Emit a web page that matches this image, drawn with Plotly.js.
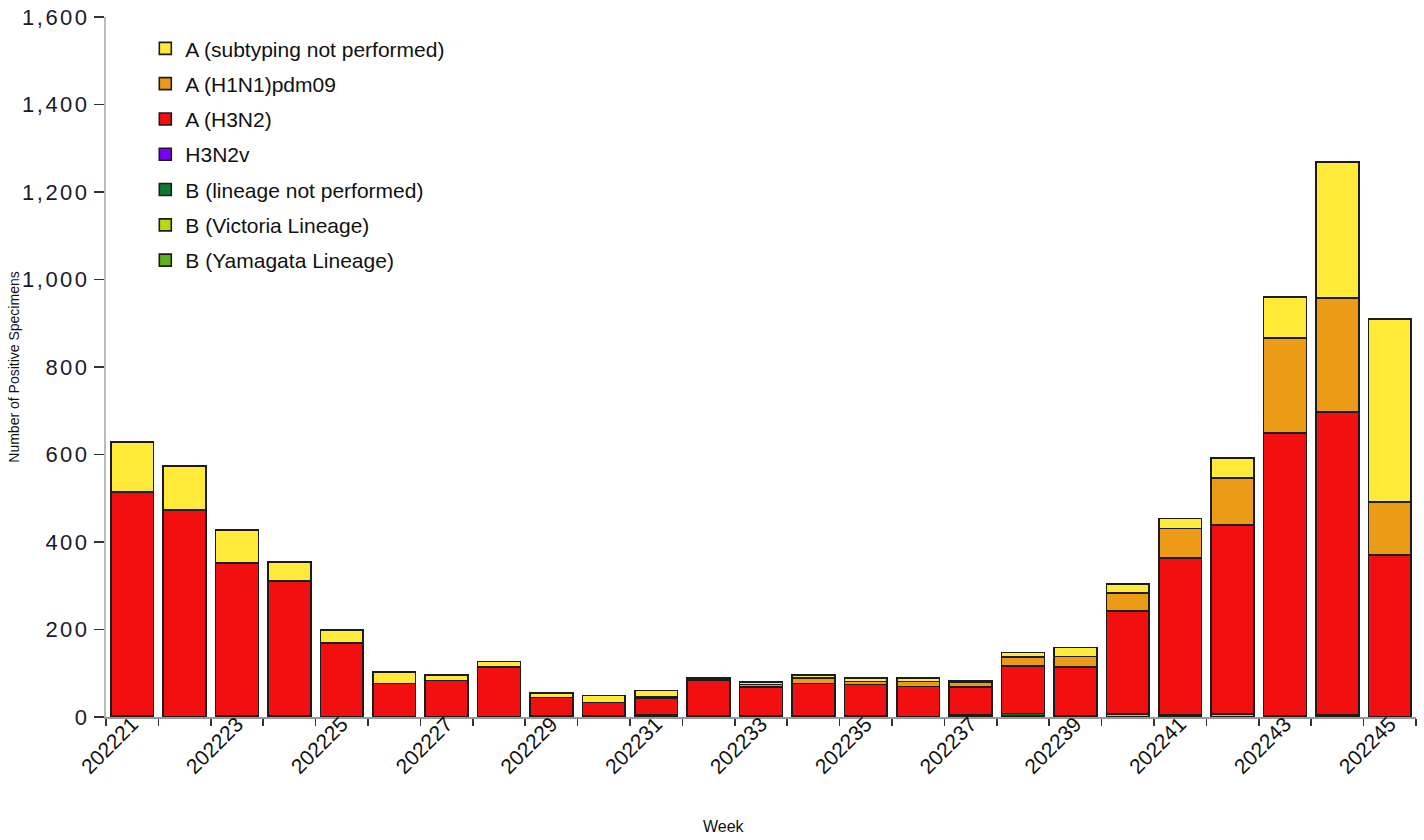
<!DOCTYPE html>
<html>
<head>
<meta charset="utf-8">
<script src="https://cdn.plot.ly/plotly-3.0.1.min.js"></script>
<style>
html,body{margin:0;padding:0;background:#fff;}
#chart{width:1424px;height:840px;}
#chart .ytick text{letter-spacing:2.5px;}
</style>
</head>
<body>
<div id="chart"></div>
<script>
const weeks = ['202221','202222','202223','202224','202225','202226','202227','202228','202229','202230','202231','202232','202233','202234','202235','202236','202237','202238','202239','202240','202241','202242','202243','202244','202245'];
const tickLabels = ['202221','','202223','','202225','','202227','','202229','','202231','','202233','','202235','','202237','','202239','','202241','','202243','','202245'];

const aSubtypingNotPerformed = [113,101,75,43,30,26,13,13,10,16,15,3,6,7,8,8,3,10,21,21,23,46,94,310,418];
const aH1N1pdm09 = [2,0,0,0,0,0,0,0,0,0,2,4,6,12,7,11,10,21,24,41,67,107,217,261,122];
const aH3N2 = [511,472,349,308,168,76,82,113,43,31,40,81,66,75,72,69,65,108,111,234,360,431,646,692,370];
const h3n2v = [0,0,0,0,0,0,0,0,0,0,0,0,0,0,0,0,0,0,0,0,0,0,0,0,0];
const bLineageNotPerformed = [2,1,3,3,1,1,1,1,2,2,4,2,2,2,2,1,4,6,3,2,4,2,3,5,0];
const bVictoria = [0,0,0,0,0,0,0,0,0,0,0,0,0,0,0,0,0,2,0,6,0,6,0,0,0];
const bYamagata = [0,0,0,0,0,0,0,0,0,0,0,0,0,0,0,0,0,0,0,0,0,0,0,0,0];

const seriesNames = ['B (Yamagata Lineage)','B (Victoria Lineage)','B (lineage not performed)','H3N2v','A (H3N2)','A (H1N1)pdm09','A (subtyping not performed)'];
const seriesValues = [bYamagata,bVictoria,bLineageNotPerformed,h3n2v,aH3N2,aH1N1pdm09,aSubtypingNotPerformed];
const seriesColors = ['#5EB31C','#B8D911','#0A7A30','#7A00FF','#F20F0F','#EB9B15','#FFEA3A'];

const traces = seriesNames.map((name,i)=>({
  type:'bar',
  name:name,
  x:weeks,
  y:seriesValues[i],
  legendgroup:'g'+i,
  legendrank:1000 - i,
  marker:{color:seriesColors[i], line:{color:'#1c1c1c', width:1.6}},
  hoverinfo:'x+y+name'
}));

const font = 'Liberation Sans, Arial, sans-serif';
const layout = {
  width:1424, height:840,
  margin:{l:106, r:8, t:17, b:123},
  paper_bgcolor:'#fff', plot_bgcolor:'#fff',
  barmode:'stack',
  bargap:0.18,
  showlegend:true,
  legend:{
    x:0.030, y:0.984, xanchor:'left', yanchor:'top',
    traceorder:'grouped',
    tracegroupgap:5,
    font:{family:font, size:21, color:'#111'},
    bgcolor:'rgba(0,0,0,0)'
  },
  xaxis:{
    type:'category',
    tickmode:'array', tickvals:weeks, ticktext:tickLabels,
    tickangle:-45,
    tickson:'boundaries',
    ticks:'outside', ticklen:7, tickcolor:'#333', tickwidth:1.5,
    ticklabelstandoff:-15,
    showline:true, linecolor:'#999', linewidth:1.5,
    showgrid:false,
    tickfont:{family:font, size:21, color:'#111'},
    range:[-0.5,24.5]
  },
  yaxis:{
    range:[0,1600], dtick:200, tickformat:',d',
    ticks:'outside', ticklen:10, tickcolor:'#333', tickwidth:1.5,
    showline:true, linecolor:'#bbb', linewidth:2,
    showgrid:false, zeroline:false,
    tickfont:{family:font, size:22, color:'#1a1a2a'},
    title:{text:'Number of Positive Specimens', font:{family:'Liberation Sans Narrow, Liberation Sans, Arial, sans-serif', size:14, color:'#111'}, standoff:12}
  },
  annotations:[{
    text:'Week', xref:'paper', yref:'paper', x:0.4718, y:-0.157,
    xanchor:'center', yanchor:'middle', showarrow:false,
    font:{family:font, size:16, color:'#111'}
  }]
};

Plotly.newPlot('chart', traces, layout, {displayModeBar:false, staticPlot:true});
</script>
</body>
</html>
